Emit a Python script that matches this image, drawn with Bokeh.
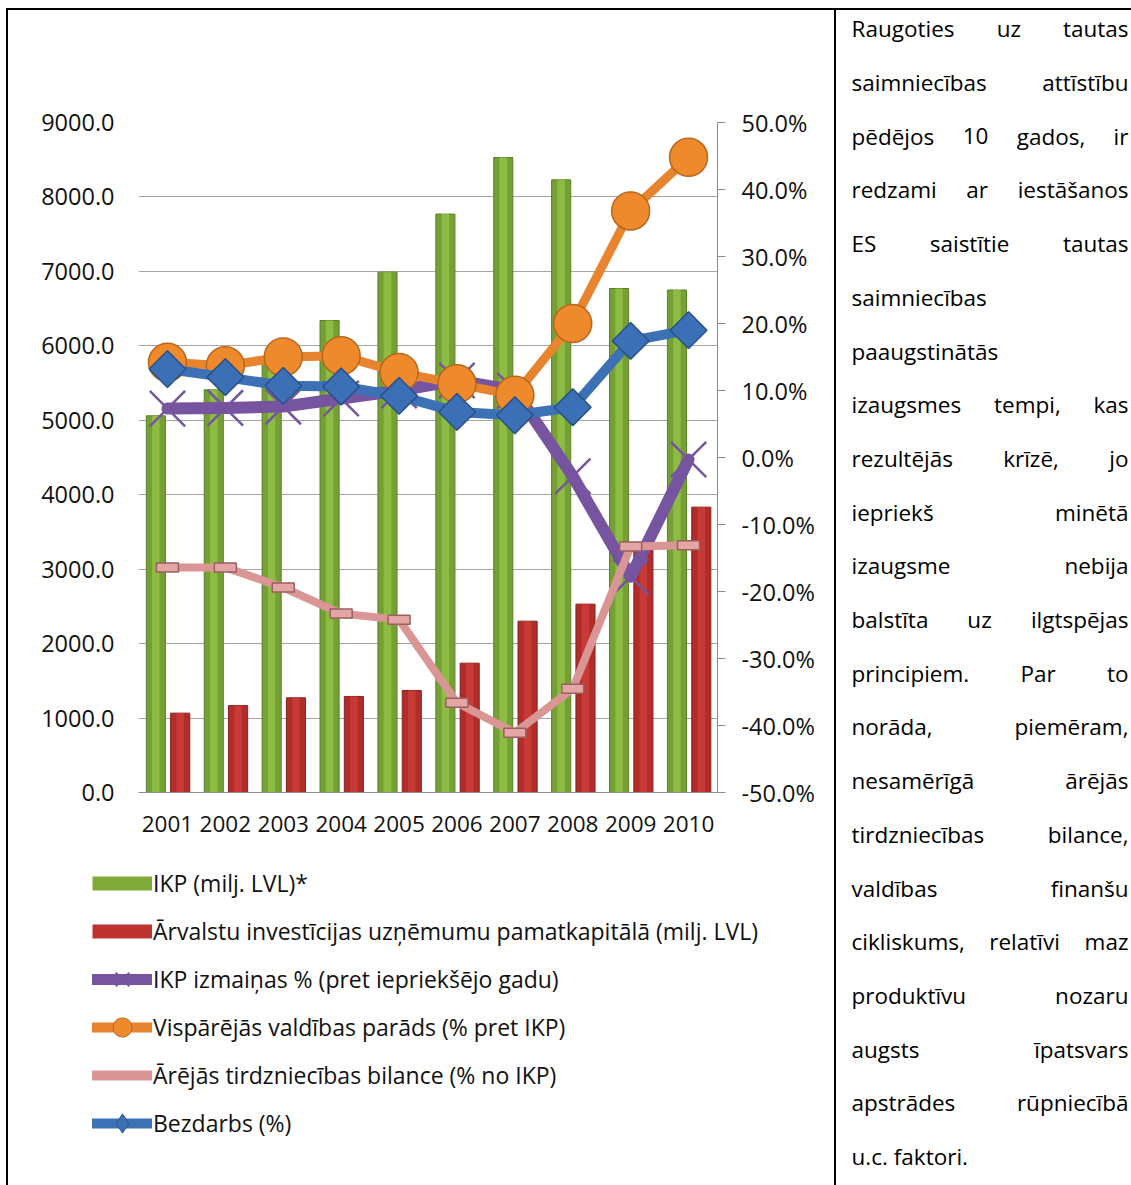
from bokeh.plotting import figure
from bokeh.models import (ColumnDataSource, Range1d, LinearAxis, FixedTicker,
                          PrintfTickFormatter, Legend, LegendItem, FactorRange, Spacer)
from bokeh.layouts import row, column
from bokeh.transform import dodge
from bokeh.embed import file_html
from bokeh.resources import INLINE
import numpy as np

# ---------------- data ----------------
years = ["2001", "2002", "2003", "2004", "2005", "2006", "2007", "2008", "2009", "2010"]
gdp = [5060, 5410, 5790, 6340, 6990, 7770, 8530, 8230, 6770, 6750]          # IKP (milj. LVL)
fdi = [1066, 1169, 1272, 1290, 1370, 1737, 2301, 2530, 3310, 3833]          # Ārvalstu investīcijas
gdp_change = [7.3, 7.4, 7.6, 8.8, 10.0, 11.5, 10.0, -2.8, -17.8, -0.3]      # %
gov_debt = [14.2, 13.7, 15.0, 15.2, 12.7, 11.0, 9.3, 20.0, 36.8, 44.8]      # % of GDP
trade_bal = [-16.4, -16.4, -19.4, -23.3, -24.2, -36.6, -41.1, -34.5, -13.3, -13.1]
unemployment = [13.2, 12.0, 10.7, 10.6, 9.2, 6.8, 6.3, 7.5, 17.4, 19.0]

left_ticks = [0, 1000, 2000, 3000, 4000, 5000, 6000, 7000, 8000, 9000]
right_ticks = [-50, -40, -30, -20, -10, 0, 10, 20, 30, 40, 50]

legend_labels = [
    "IKP (milj. LVL)*",
    "Ārvalstu investīcijas uzņēmumu pamatkapitālā (milj. LVL)",
    "IKP izmaiņas % (pret iepriekšējo gadu)",
    "Vispārējās valdības parāds (% pret IKP)",
    "Ārējās tirdzniecības bilance (% no IKP)",
    "Bezdarbs (%)",
]

text_lines = [
    "Raugoties uz tautas",
    "saimniecības attīstību",
    "pēdējos 10 gados, ir",
    "redzami ar iestāšanos",
    "ES saistītie tautas",
    "saimniecības",
    "paaugstinātās",
    "izaugsmes tempi, kas",
    "rezultējās krīzē, jo",
    "iepriekš minētā",
    "izaugsme nebija",
    "balstīta uz ilgtspējas",
    "principiem. Par to",
    "norāda, piemēram,",
    "nesamērīgā ārējās",
    "tirdzniecības bilance,",
    "valdības finanšu",
    "cikliskums, relatīvi maz",
    "produktīvu nozaru",
    "augsts īpatsvars",
    "apstrādes rūpniecībā",
    "u.c. faktori.",
]
no_justify = {5, 6, 21}

FONT = "Open Sans"
PURPLE = "#7654a0"
ORANGE = "#e8842e"
PINK = "#d99694"
BLUE = "#3c72b5"

# ---------------- chart figure (page x 8..834, y 10..850) ----------------
CW, CH = 826, 840
p = figure(width=CW, height=CH, x_range=FactorRange(*years), y_range=Range1d(0, 9000),
           output_backend="svg", toolbar_location=None,
           min_border_left=130, min_border_right=117, min_border_top=112,
           min_border_bottom=58)
p.frame_align = False
p.outline_line_color = None
p.extra_y_ranges = {"pct": Range1d(-50, 50)}

ya = p.yaxis[0]
ya.ticker = FixedTicker(ticks=left_ticks)
ya.formatter = PrintfTickFormatter(format="%.1f")
ya.axis_line_color = None
ya.major_tick_line_color = None
ya.minor_tick_line_color = None
ya.major_tick_out = 0
ya.major_tick_in = 0
ya.major_label_standoff = 24
ya.major_label_text_font = FONT
ya.major_label_text_font_size = "23.5px"
ya.major_label_text_color = "#111111"

ra = LinearAxis(y_range_name="pct", ticker=FixedTicker(ticks=right_ticks),
                formatter=PrintfTickFormatter(format="%.1f%%"))
ra.axis_line_color = "#8c8c8c"
ra.major_tick_line_color = "#8c8c8c"
ra.minor_tick_line_color = None
ra.major_tick_out = 8
ra.major_tick_in = 0
ra.major_label_standoff = 16
ra.major_label_text_font = FONT
ra.major_label_text_font_size = "23.5px"
ra.major_label_text_color = "#111111"
p.add_layout(ra, "right")

xa = p.xaxis[0]
xa.axis_line_color = "#8c8c8c"
xa.major_tick_line_color = None
xa.major_tick_out = 0
xa.major_tick_in = 0
xa.major_label_standoff = 23
xa.major_label_text_font = FONT
xa.major_label_text_font_size = "22.5px"
xa.major_label_text_color = "#111111"

p.xgrid.visible = False
p.ygrid.ticker = FixedTicker(ticks=left_ticks)
p.ygrid.grid_line_color = "#a6a6a6"
p.ygrid.grid_line_width = 1

src = ColumnDataSource(dict(year=years, gdp=gdp, fdi=fdi, chg=gdp_change,
                            debt=gov_debt, trade=trade_bal, unemp=unemployment))

p.vbar(x=dodge("year", -0.2, range=p.x_range), top="gdp", width=0.33, source=src,
       fill_color="#76a035", line_color="#5a8224", line_width=1)
p.vbar(x=dodge("year", -0.2, range=p.x_range), top="gdp", width=0.13, source=src,
       fill_color="#8cbc43", line_color=None)
p.vbar(x=dodge("year", 0.22, range=p.x_range), top="fdi", width=0.33, source=src,
       fill_color="#b02d2a", line_color="#8a211f", line_width=1)
p.vbar(x=dodge("year", 0.22, range=p.x_range), top="fdi", width=0.13, source=src,
       fill_color="#c83a36", line_color=None)

p.line("year", "chg", source=src, y_range_name="pct", line_width=12, line_color=PURPLE,
       line_join="round", line_cap="round")
p.scatter("year", "chg", source=src, y_range_name="pct", marker="x", size=50,
          line_width=2.5, line_color=PURPLE)

p.line("year", "debt", source=src, y_range_name="pct", line_width=9, line_color=ORANGE,
       line_join="round", line_cap="round")
p.scatter("year", "debt", source=src, y_range_name="pct", marker="circle", size=38,
          fill_color="#ee8a2c", line_color="#b9661c", line_width=1.5)

p.line("year", "trade", source=src, y_range_name="pct", line_width=8, line_color=PINK,
       line_join="round", line_cap="round")
p.rect("year", "trade", source=src, y_range_name="pct", width=22, height=9,
       width_units="screen", height_units="screen",
       fill_color="#e3a6a4", line_color="#9b5f5d", line_width=1.5)

p.line("year", "unemp", source=src, y_range_name="pct", line_width=10, line_color=BLUE,
       line_join="round", line_cap="round")
p.scatter("year", "unemp", source=src, y_range_name="pct", marker="square",
          angle=np.pi / 4, size=26, fill_color="#3b70b7", line_color="#2a5086",
          line_width=1.5)

# ---------------- legend figure (page x 8..834, y 850..1185) ----------------
LW, LH = 826, 335
lg = figure(width=LW, height=LH, x_range=Range1d(0, 1), y_range=Range1d(0, 1),
            output_backend="svg", toolbar_location=None, x_axis_type=None,
            y_axis_type=None, min_border=0)
lg.frame_align = False
lg.outline_line_color = None
lg.grid.visible = False
far = dict(x=[-5], y=[-5])
g_sw = lg.line(line_width=14, line_color="#80ab3b", line_cap="butt", **far)
r_sw = lg.line(line_width=14, line_color="#bd3330", line_cap="butt", **far)
p_l = lg.line(line_width=11, line_color=PURPLE, line_cap="round", **far)
p_m = lg.scatter(marker="x", line_width=2, line_color=PURPLE, **far)
o_l = lg.line(line_width=10, line_color=ORANGE, line_cap="round", **far)
o_m = lg.scatter(marker="circle", fill_color="#ee8a2c", line_color="#b9661c", **far)
k_l = lg.line(line_width=10, line_color=PINK, line_cap="round", **far)
b_l = lg.line(line_width=10, line_color=BLUE, line_cap="round", **far)
b_m = lg.scatter(marker="diamond", fill_color="#3b70b7", line_color="#2a5086", **far)

legend = Legend(items=[
    LegendItem(label=legend_labels[0], renderers=[g_sw]),
    LegendItem(label=legend_labels[1], renderers=[r_sw]),
    LegendItem(label=legend_labels[2], renderers=[p_l, p_m]),
    LegendItem(label=legend_labels[3], renderers=[o_l, o_m]),
    LegendItem(label=legend_labels[4], renderers=[k_l]),
    LegendItem(label=legend_labels[5], renderers=[b_l, b_m]),
], location=(84, 38), glyph_width=60, glyph_height=48, spacing=0, padding=0,
    margin=0, label_standoff=1, label_text_font=FONT, label_text_font_size="23px",
    label_text_color="#111111", border_line_color=None, background_fill_alpha=0)
lg.add_layout(legend)

# ---------------- text figure (page x 836..1131, y 10..1185) ----------------
TW, TH = 295, 1175
tf = figure(width=TW, height=TH, x_range=Range1d(836, 1131), y_range=Range1d(1185, 10),
            output_backend="svg", toolbar_location=None, x_axis_type=None,
            y_axis_type=None, min_border=0)
tf.frame_align = False
tf.outline_line_color = None
tf.grid.visible = False

# approximate Open Sans advance widths (units of 1/2048 em) for justification
ADV = {" ": 532, ",": 502, ".": 545, "A": 1296, "Ā": 1296, "E": 1139, "P": 1225,
       "R": 1276, "S": 1100, "a": 1139, "ā": 1139, "b": 1255, "c": 975, "d": 1255,
       "e": 1149, "ē": 1149, "f": 694, "g": 1122, "h": 1257, "i": 518, "ī": 518,
       "j": 518, "k": 1075, "l": 518, "m": 1905, "n": 1257, "ņ": 1257, "o": 1237,
       "p": 1255, "r": 836, "s": 977, "š": 977, "t": 723, "u": 1257, "ū": 1257,
       "v": 1026, "z": 956, "ž": 956}
FS = 22.5
def wpx(word):
    return sum(ADV.get(ch, 1171 if ch.isdigit() else 1100) for ch in word) / 2048 * FS

TX_L, TX_R = 851, 1128
base0, pitch = 28.3, 53.7
L = dict(x=[], y=[], t=[])
R = dict(x=[], y=[], t=[])
C = dict(x=[], y=[], t=[])
for i, line in enumerate(text_lines):
    yb = base0 + pitch * i
    words = line.split(" ")
    if i in no_justify or len(words) == 1:
        L["x"].append(TX_L); L["y"].append(yb); L["t"].append(line)
        continue
    widths = [wpx(w) for w in words]
    gap = (TX_R - TX_L - sum(widths)) / (len(words) - 1)
    L["x"].append(TX_L); L["y"].append(yb); L["t"].append(words[0])
    R["x"].append(TX_R); R["y"].append(yb); R["t"].append(words[-1])
    xcur = TX_L + widths[0] + gap
    for w, ww in zip(words[1:-1], widths[1:-1]):
        C["x"].append(xcur + ww / 2); C["y"].append(yb); C["t"].append(w)
        xcur += ww + gap

for d, al in [(L, "left"), (R, "right"), (C, "center")]:
    tf.text(x="x", y="y", text="t", source=ColumnDataSource(d), text_align=al,
            text_baseline="alphabetic", text_font={"value": FONT},
            text_font_size="22.5px", text_color="black")

# ---------------- table borders & assembly ----------------
def blk(w, h):
    return Spacer(width=w, height=h, styles={"background-color": "black"})

left_col = column(p, lg, spacing=0)
body = row(Spacer(width=6, height=1175), blk(2, 1175), left_col, blk(2, 1175), tf,
           spacing=0)
top = row(Spacer(width=6, height=2), blk(1125, 2), spacing=0)
page = column(Spacer(width=1131, height=8), top, body, spacing=0)

open("out.html", "w").write(file_html(page, INLINE))
